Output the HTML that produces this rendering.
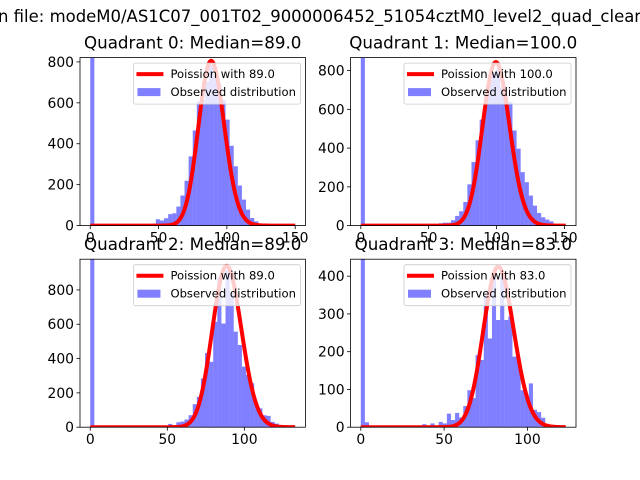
<!DOCTYPE html>
<html><head><meta charset="utf-8"><style>
html,body{margin:0;padding:0;background:#fff;}
svg{display:block;font-family:"DejaVu Sans","Liberation Sans",sans-serif;}
</style></head><body>
<svg id="fig" width="640" height="480" viewBox="0 0 640 480" xmlns="http://www.w3.org/2000/svg">
<rect width="640" height="480" fill="#fff"/>
<text x="-2" y="22" font-size="16.7" fill="#000" textLength="652" lengthAdjust="spacingAndGlyphs">n file: modeM0/AS1C07_001T02_9000006452_51054cztM0_level2_quad_clean.</text>
</svg>
<script>
// ---- data ----
const q0Counts = [5000,0,0,0,0,0,0,0,0,0,0,0,0,0,8,10,31,25,36,56,60,93,147,219,338,465,607,615,704,785,740,695,615,518,390,290,196,127,78,37,21,10,3,2,1,0,0,0,0,0];
const q1Counts = [5000,0,0,0,0,0,0,0,0,0,0,0,0,0,0,0,0,0,8,12,15,15,28,50,74,122,213,328,440,547,664,750,790,810,717,664,638,491,397,276,224,155,103,65,43,31,22,8,3,1];
const q2Counts = [5000,0,0,0,0,0,0,0,0,0,0,0,0,0,0,0,0,0,0,19,12,29,33,45,70,134,177,284,433,381,614,877,604,916,780,557,479,353,304,256,139,110,70,66,31,21,8,4,2,1];
const q3Counts = [5000,13,0,0,0,0,0,0,0,0,0,0,0,0,0,8,0,10,4,14,10,36,19,38,26,56,98,77,191,178,346,235,399,284,399,284,293,187,183,98,81,116,46,40,25,9,3,1,0,0];
const medians = [89.0, 100.0, 89.0, 83.0];
const dataMax = [150, 151, 133, 123];
const poissonScale = [19040, 21150, 22230, 9710];
const yMaxes = [821, 867, 979, 445];
const xTicks = [[0,50,100,150],[0,50,100,150],[0,50,100],[0,50,100]];
const yTicks = [[0,200,400,600,800],[0,200,400,600,800],[0,200,400,600,800],[0,100,200,300,400]];
const allCounts = [q0Counts,q1Counts,q2Counts,q3Counts];

const NS = "http://www.w3.org/2000/svg";
const svg = document.getElementById('fig');
function mk(tag, attrs, parent){
  const e = document.createElementNS(NS, tag);
  for (const k in attrs) e.setAttribute(k, attrs[k]);
  (parent||svg).appendChild(e);
  return e;
}
function lgamma(z){
  if (z < 7){ let p=1; while(z<7){p*=z;z++;} return lgamma(z)-Math.log(p); }
  return (z-0.5)*Math.log(z)-z+0.5*Math.log(2*Math.PI)+1/(12*z)-1/(360*z*z*z);
}
const W = 225.45, H = 168;
const lefts = [80, 350.55, 80, 350.55];
const tops = [57.6, 57.6, 259.2, 259.2];

for (let q=0;q<4;q++){
  const x0=lefts[q], y0=tops[q], counts=allCounts[q];
  const dmax=dataMax[q], pad=dmax*0.05;
  const xmin=-pad, xmax=dmax+pad, ymax=yMaxes[q];
  const X = v => x0 + (v-xmin)/(xmax-xmin)*W;
  const Y = v => y0 + H - v/ymax*H;
  const g = mk('g',{});
  
  
  const cp = mk('clipPath',{id:'clip'+q}, g);
  mk('rect',{x:x0,y:y0,width:W,height:H}, cp);
  const plot = mk('g',{'clip-path':'url(#clip'+q+')'}, g);
  const bw = dmax/counts.length;
  for (let i=0;i<counts.length;i++){
    if (counts[i]<=0) continue;
    const xa=X(i*bw), xb=X((i+1)*bw);
    const r = mk('rect',{x:xa,y:Y(counts[i]),width:xb-xa,height:Y(0)-Y(counts[i]),fill:'#0000ff','fill-opacity':0.5}, plot);
    
    
  }
  const lam = medians[q];
  let d='';
  for (let x=0;x<=dmax;x+=0.5){
    const v = poissonScale[q]*Math.exp(-lam + x*Math.log(lam) - lgamma(x+1));
    d += (x===0?'M':'L')+X(x).toFixed(2)+','+Y(v).toFixed(2);
  }
  const pl = mk('path',{d:d,fill:'none',stroke:'#ff0000','stroke-width':4,'stroke-linejoin':'round'}, plot);
  
  
  const fr = mk('rect',{x:x0,y:y0,width:W,height:H,fill:'none',stroke:'#000','stroke-width':0.8}, g);
  
  
  xTicks[q].forEach(t=>{
    const px=X(t);
    mk('line',{x1:px,x2:px,y1:y0+H,y2:y0+H+3.5,stroke:'#000','stroke-width':0.8}, g);
    const tx = mk('text',{x:px,y:y0+H+17,'font-size':13.9,'text-anchor':'middle'}, g);
    tx.textContent = t;
    
    
  });
  yTicks[q].forEach(t=>{
    const py=Y(t);
    mk('line',{x1:x0-3.5,x2:x0,y1:py,y2:py,stroke:'#000','stroke-width':0.8}, g);
    const ty = mk('text',{x:x0-6,y:py+5,'font-size':13.9,'text-anchor':'end'}, g);
    ty.textContent = t;
    
    
  });
  const title = mk('text',{x:x0+W/2,y:y0-9,'font-size':16.7,'text-anchor':'middle'}, g);
  title.textContent = 'Quadrant '+q+': Median='+lam.toFixed(1);
  
  
  // legend
  const lx = x0+W-5-167, ly = y0+5.5;
  const lg = mk('g',{}, g);
  
  
  mk('rect',{x:lx,y:ly,width:167,height:41,rx:2,fill:'#fff','fill-opacity':0.8,stroke:'#cccccc','stroke-width':0.8}, lg);
  mk('line',{x1:lx+3,x2:lx+30,y1:ly+11,y2:ly+11,stroke:'#ff0000','stroke-width':4}, lg);
  mk('rect',{x:lx+4,y:ly+25,width:23,height:8,fill:'#0000ff','fill-opacity':0.5}, lg);
  const t1 = mk('text',{x:lx+37,y:ly+15,'font-size':11.6}, lg);
  t1.textContent = 'Poission with '+lam.toFixed(1);
  
  
  const t2 = mk('text',{x:lx+37,y:ly+33,'font-size':11.6}, lg);
  t2.textContent = 'Observed distribution';
  
  
}
</script>
</body></html>
